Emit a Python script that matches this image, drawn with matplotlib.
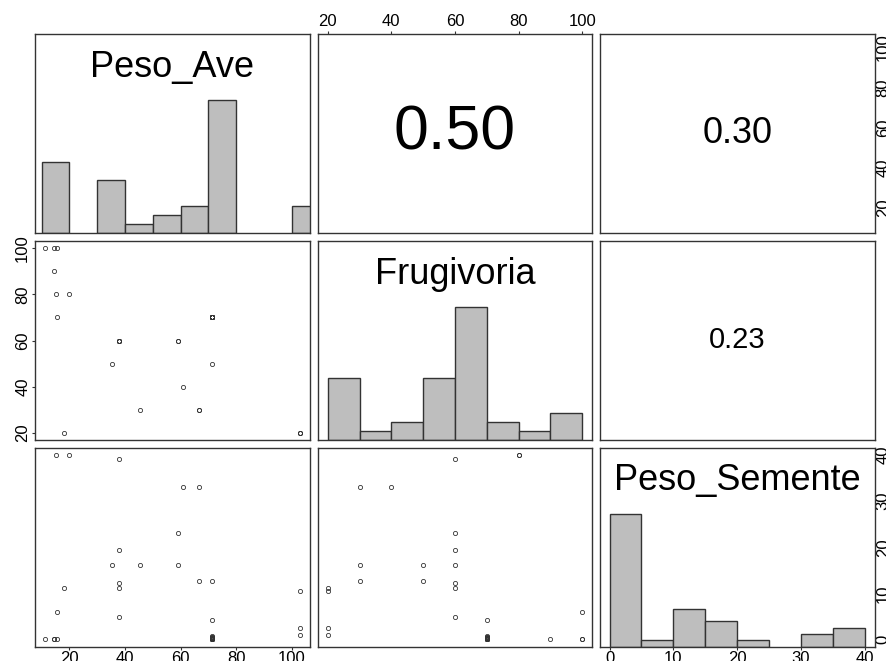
import numpy as np
import matplotlib.pyplot as plt
from matplotlib.patches import Rectangle
from matplotlib.transforms import blended_transform_factory

plt.rcParams['font.family'] = ['Liberation Sans', 'DejaVu Sans']

# one entry per observation (38 rows)
peso_ave = [11.3, 14.3, 14.3, 15.5, 15.5, 15.2, 20, 18, 35.2, 38, 38, 38, 38, 38,
            45.3, 59.2, 59.2, 60.7, 66.5, 66.5, 71.4, 71.4,
            71.4, 71.4, 71.4, 71.4, 71.4, 71.4, 71.4, 71.4, 71.4, 71.4, 71.4, 71.4, 71.4,
            102.9, 102.9, 102.9]
frugivoria = [100, 100, 90, 100, 70, 80, 80, 20, 50, 60, 60, 60, 60, 60,
              30, 60, 60, 40, 30, 30, 50, 70,
              70, 70, 70, 70, 70, 70, 70, 70, 70, 70, 70, 70, 70,
              20, 20, 20]
peso_semente = [0.2, 0.2, 0.2, 6.0, 0.2, 40, 40, 11.2, 16.2, 39, 19.3, 12.2, 11.2, 5.0,
                16.2, 23.1, 16.2, 33, 33, 12.6, 12.6, 4.3,
                0.7, 0.6, 0.5, 0.4, 0.4, 0.3, 0.2, 0.2, 0.1, 0.1, 0.1, 0.1, 0.1,
                10.6, 2.5, 1.0]

names = ['Peso_Ave', 'Frugivoria', 'Peso_Semente']
breaks = [np.arange(10, 111, 10), np.arange(20, 101, 10), np.arange(0, 41, 5)]
ticks = [[20, 40, 60, 80, 100], [20, 40, 60, 80, 100], [0, 10, 20, 30, 40]]

# |r| shown in the upper panels
cor_text = {(0, 1): 0.50, (0, 2): 0.30, (1, 2): 0.23}
cor_size = {(0, 1): 45, (0, 2): 26, (1, 2): 21}

data = [np.array(peso_ave), np.array(frugivoria), np.array(peso_semente)]
lims = []
for v in data:
    pad = 0.04 * (v.max() - v.min())
    lims.append((v.min() - pad, v.max() + pad))

W, H = 887, 661
col_left = [35, 317.5, 600]
row_top = [34, 241, 447.5]
pw, ph = 275, 199
edge = '#333333'

fig = plt.figure(figsize=(W / 100, H / 100), dpi=100)

for i in range(3):
    for j in range(3):
        ax = fig.add_axes([col_left[j] / W, 1 - (row_top[i] + ph) / H, pw / W, ph / H])
        ax.set_xlim(lims[j])
        ax.set_ylim(lims[i])
        for s in ax.spines.values():
            s.set_color(edge)
            s.set_linewidth(1.0)

        if i > j:
            ax.plot(data[j], data[i], 'o', mfc='none', mec='#333333', ms=3, mew=0.6)
        elif i == j:
            v = data[i]
            b = breaks[i]
            # R hist: right-closed bins, lowest included
            idx = np.clip(np.searchsorted(b, v, side='left') - 1, 0, len(b) - 2)
            counts = np.bincount(idx, minlength=len(b) - 1)
            hts = counts / counts.max() / 1.5
            trans = blended_transform_factory(ax.transData, ax.transAxes)
            for k in range(len(counts)):
                if counts[k] == 0:
                    continue
                ax.add_patch(Rectangle((b[k], 0), b[k + 1] - b[k], hts[k], transform=trans,
                                       facecolor='#BEBEBE', edgecolor=edge, linewidth=1.0))
            ax.text(0.5, 0.833, names[i], transform=ax.transAxes, ha='center', va='center',
                    fontsize=26)
        else:
            ax.text(0.5, 0.5, '%.2f' % cor_text[(i, j)], transform=ax.transAxes,
                    ha='center', va='center', fontsize=cor_size[(i, j)])

        ax.set_xticks(ticks[j])
        ax.set_yticks(ticks[i])
        show_top = (i == 0 and j % 2 == 1)
        show_bottom = (i == 2 and j % 2 == 0)
        show_left = (j == 0 and i % 2 == 1)
        show_right = (j == 2 and i % 2 == 0)
        ax.tick_params(top=show_top, labeltop=show_top, bottom=show_bottom, labelbottom=show_bottom,
                       left=show_left, labelleft=show_left, right=show_right, labelright=show_right,
                       direction='out', length=2.5, width=0.8, color=edge, labelsize=12, pad=1)
        ax.tick_params(axis='y', labelrotation=90)
        if show_right:
            ax.tick_params(axis='y', length=0, pad=0.5)
        for lab in ax.get_yticklabels():
            lab.set_va('center')

fig.savefig('out.png', dpi=100)
